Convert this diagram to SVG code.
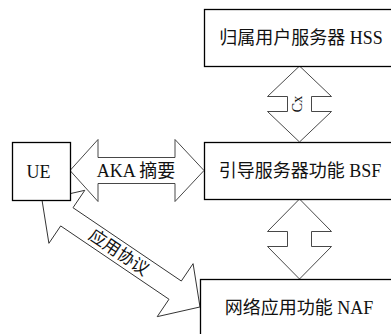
<svg xmlns="http://www.w3.org/2000/svg" width="391" height="334" viewBox="0 0 391 334">
<style>
.box{fill:#fff;stroke:#000;stroke-width:1.3}
.arr{fill:#fff;stroke:#333;stroke-width:0.9;stroke-linejoin:miter}
.t{font-family:"Liberation Serif","Noto Sans CJK SC",serif;font-size:18px;fill:#111;text-anchor:middle}
.s{font-family:"Liberation Serif",serif;font-size:14px;fill:#111;text-anchor:middle}
</style>
<rect width="391" height="334" fill="#fff"/>
<g id="connectors">
<polygon class="arr" points="70,170.5 98,139.5 98,157.5 175,157.5 175,139.5 204,170.5 175,201.5 175,183.5 98,183.5 98,201.5"/>
<text class="t" x="136" y="177">AKA 摘要</text>
<polygon class="arr" points="299.5,66 331.5,96.5 311.5,96.5 311.5,111.5 331.5,111.5 299.5,142 267.5,111.5 287.5,111.5 287.5,96.5 267.5,96.5"/>
<text class="s" transform="translate(302,104) rotate(-90)">Cx</text>
<polygon class="arr" points="299.5,199 331.5,231.5 311.5,231.5 311.5,246.5 331.5,246.5 299.5,279 267.5,246.5 287.5,246.5 287.5,231.5 267.5,231.5"/>
<g transform="translate(42,200) rotate(34.1)">
<polygon class="arr" points="0,0 30,-32 30,-11 160.8,-11 160.8,-32 190.8,0 160.8,32 160.8,11 30,11 30,32"/>
<text class="t" x="93" y="6" style="font-size:17px">应用协议</text>
</g>
</g>
<g id="hss"><rect class="box" x="204.5" y="9.5" width="190" height="57"/><text class="t" x="301" y="44">归属用户服务器 HSS</text></g>
<g id="bsf"><rect class="box" x="204.5" y="142.5" width="190" height="57"/><text class="t" x="300" y="177">引导服务器功能 BSF</text></g>
<g id="ue"><rect class="box" x="12.5" y="142.5" width="58" height="58"/><text class="t" x="38.5" y="178">UE</text></g>
<g id="naf"><rect class="box" x="200.5" y="279.5" width="194" height="60"/><text class="t" x="299" y="314">网络应用功能 NAF</text></g>
</svg>
